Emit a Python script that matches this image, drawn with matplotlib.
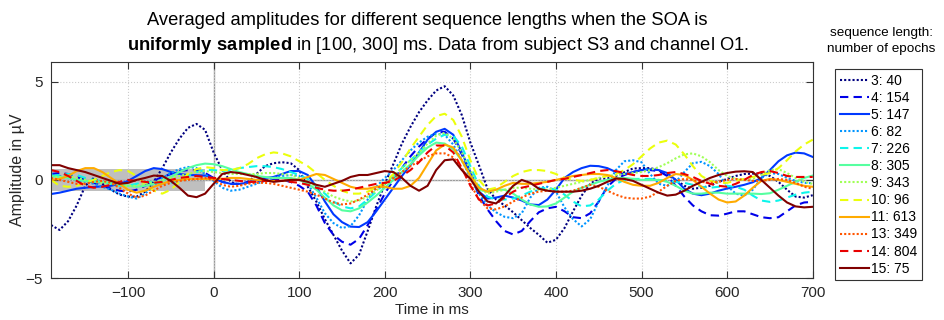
import numpy as np
import matplotlib
matplotlib.use('Agg')
import matplotlib.pyplot as plt

plt.rcParams['font.family'] = ['Liberation Sans', 'DejaVu Sans']
plt.rcParams['mathtext.fontset'] = 'custom'
plt.rcParams['mathtext.rm'] = 'Liberation Sans'
plt.rcParams['mathtext.bf'] = 'Liberation Sans:bold'

# sample times in ms (10 ms steps, -190 .. 700)
time_ms = list(range(-190, 701, 10))

seq_lengths = [3, 4, 5, 6, 7, 8, 9, 10, 11, 13, 14, 15]
n_epochs = [40, 154, 147, 82, 226, 305, 343, 96, 613, 349, 804, 75]

# averaged amplitudes (uV), one list per sequence length
amp_3 = [-2.3, -2.55, -2.1, -1.3, -0.3, 0.1, -0.2, -0.5, -0.75, -0.85,
         -0.85, -0.6, -0.1, 0.6, 1.4, 2.1, 2.65, 2.85, 2.55, 1.4,
         0.5, -0.1, -0.25, -0.15, 0.3, 0.7, 0.85, 0.9, 0.85, 0.5,
         -0.35, -1.1, -2.0, -2.8, -3.6, -4.25, -3.8, -2.6, -1.35, -0.2,
         0.8, 1.85, 2.7, 3.45, 4.05, 4.55, 4.77, 4.3, 3.3, 1.9,
         0.75, -0.45, -1.0, -1.3, -1.65, -2.05, -2.45, -2.8, -3.2, -3.05,
         -2.45, -1.6, -0.8, -0.2, 0.07, 0.07, 0.2, 0.4, 0.58, 0.6,
         0.6, 0.5, 0.25, 0.0, -0.3, -0.45, -0.4, -0.3, -0.1, 0.05,
         0.2, 0.3, 0.32, 0.32, 0.2, -0.1, -0.5, -0.85, -0.9, -0.78]
amp_4 = [0.3, 0.35, 0.3, 0.15, 0.0, -0.15, -0.3, -0.45, -0.55, -0.6,
         -0.5, -0.3, -0.05, 0.15, 0.3, 0.45, 0.5, 0.5, 0.35, 0.1,
         -0.1, -0.2, -0.2, -0.1, -0.05, -0.05, 0.0, 0.0, -0.1, -0.3,
         -0.6, -1.3, -2.2, -2.8, -3.15, -3.3, -3.0, -2.3, -1.5, -0.7,
         0.0, 0.6, 1.2, 1.7, 2.1, 2.4, 2.45, 2.1, 1.3, 0.3,
         -0.8, -1.5, -2.1, -2.6, -2.78, -2.6, -2.1, -1.65, -1.45, -1.37,
         -1.6, -1.9, -1.95, -1.7, -1.1, -0.35, 0.05, 0.25, 0.4, 0.5,
         0.5, 0.45, 0.2, -0.3, -0.85, -1.3, -1.6, -1.8, -1.82, -1.72,
         -1.6, -1.6, -1.75, -1.9, -1.95, -1.9, -1.6, -1.3, -1.15, -1.12]
amp_5 = [-0.72, -0.65, -0.55, -0.45, -0.4, -0.36, -0.33, -0.3, -0.2, -0.05,
         0.2, 0.45, 0.6, 0.55, 0.4, 0.3, 0.25, 0.24, 0.22, 0.1,
         -0.1, -0.2, -0.2, -0.15, 0.0, 0.1, 0.15, 0.3, 0.45, 0.45,
         0.25, -0.35, -1.1, -1.75, -2.15, -2.38, -2.4, -2.15, -1.6, -1.0,
         -0.4, 0.2, 0.75, 1.4, 2.05, 2.45, 2.6, 2.3, 1.4, 0.4,
         -0.6, -0.95, -0.9, -0.8, -0.9, -1.05, -1.25, -1.28, -1.0, -0.5,
         0.1, 0.4, 0.6, 0.72, 0.7, 0.6, 0.4, 0.3, 0.4, 0.5,
         0.54, 0.5, 0.35, 0.0, -0.45, -0.7, -0.78, -0.7, -0.55, -0.44,
         -0.35, -0.25, -0.12, 0.1, 0.5, 0.95, 1.25, 1.39, 1.35, 1.17]
amp_6 = [0.3, 0.2, 0.1, 0.0, -0.1, -0.2, -0.35, -0.5, -0.7, -0.85,
         -0.95, -0.7, -0.3, 0.1, 0.35, 0.55, 0.66, 0.6, 0.3, -0.05,
         -0.4, -0.55, -0.5, -0.35, -0.2, -0.05, 0.1, 0.2, 0.25, 0.2,
         -0.2, -0.9, -1.7, -2.2, -2.45, -2.35, -1.8, -1.0, -0.35, 0.1,
         0.5, 1.0, 1.5, 1.9, 2.2, 2.35, 2.3, 1.8, 1.0, 0.1,
         -0.7, -1.3, -1.65, -1.88, -1.95, -1.7, -0.9, -0.4, -0.35, -0.6,
         -1.4, -2.0, -2.37, -2.0, -1.1, -0.3, 0.5, 0.95, 1.0, 0.9,
         0.3, -0.2, -0.3, -0.1, 0.4, 0.85, 0.92, 0.7, 0.3, -0.3,
         -0.7, -0.8, -0.5, 0.1, 0.35, 0.3, 0.1, -0.05, -0.15, -0.17]
amp_7 = [0.2, 0.25, 0.3, 0.25, 0.1, 0.0, -0.1, -0.2, -0.3, -0.3,
         -0.2, -0.1, -0.1, -0.2, -0.15, 0.0, 0.2, 0.4, 0.5, 0.5,
         0.45, 0.5, 0.6, 0.65, 0.7, 0.7, 0.65, 0.55, 0.4, 0.25,
         0.05, -0.3, -0.7, -1.1, -1.35, -1.45, -1.35, -1.0, -0.6, -0.2,
         0.2, 0.6, 1.0, 1.4, 1.8, 2.1, 2.3, 2.25, 1.7, 0.7,
         -0.3, -0.85, -1.0, -1.0, -0.95, -0.8, -0.6, -0.45, -0.4, -0.5,
         -0.75, -1.1, -1.35, -1.3, -1.0, -0.55, -0.2, 0.0, 0.05, 0.05,
         0.05, 0.0, -0.05, -0.1, -0.15, -0.25, -0.35, -0.4, -0.35, -0.3,
         -0.35, -0.5, -0.8, -1.05, -1.12, -1.05, -0.9, -0.75, -0.65, -0.6]
amp_8 = [0.2, 0.15, 0.1, 0.0, -0.05, -0.1, -0.1, -0.15, -0.2, -0.3,
         -0.35, -0.3, -0.2, -0.05, 0.15, 0.4, 0.6, 0.75, 0.83, 0.8,
         0.7, 0.55, 0.4, 0.3, 0.2, 0.15, 0.1, 0.1, 0.1, 0.0,
         -0.2, -0.5, -0.9, -1.3, -1.55, -1.6, -1.45, -1.15, -0.8, -0.4,
         0.0, 0.4, 0.8, 1.25, 1.65, 1.9, 1.85, 1.55, 1.0, 0.2,
         -0.5, -0.6, -0.5, -0.5, -0.7, -1.0, -1.25, -1.37, -1.35, -1.2,
         -0.9, -0.6, -0.4, -0.25, -0.1, 0.0, 0.1, 0.1, 0.05, 0.0,
         0.0, 0.0, -0.1, -0.3, -0.55, -0.7, -0.7, -0.65, -0.65, -0.7,
         -0.7, -0.7, -0.7, -0.72, -0.68, -0.5, -0.3, -0.1, 0.1, 0.22]
amp_9 = [0.1, 0.15, 0.2, 0.1, 0.0, -0.1, -0.15, -0.2, -0.25, -0.3,
         -0.3, -0.2, -0.1, 0.0, 0.1, 0.2, 0.3, 0.4, 0.45, 0.4,
         0.35, 0.3, 0.3, 0.3, 0.3, 0.35, 0.35, 0.3, 0.25, 0.1,
         -0.1, -0.35, -0.6, -0.85, -1.0, -1.1, -1.05, -0.85, -0.55, -0.2,
         0.2, 0.6, 1.0, 1.4, 1.85, 2.25, 2.4, 2.1, 1.4, 0.5,
         -0.4, -0.7, -0.6, -0.5, -0.4, -0.4, -0.45, -0.5, -0.5, -0.4,
         -0.3, -0.2, -0.1, 0.0, 0.1, 0.2, 0.25, 0.3, 0.35, 0.4,
         0.5, 0.65, 0.85, 1.1, 1.3, 1.35, 1.2, 0.9, 0.5, 0.2,
         0.05, 0.0, 0.05, 0.25, 0.5, 0.55, 0.35, 0.1, -0.1, -0.2]
amp_10 = [0.0, -0.3, -0.35, -0.3, -0.15, 0.0, 0.2, 0.4, 0.5, 0.45,
          0.2, -0.2, -0.55, -0.7, -0.5, -0.1, 0.3, 0.55, 0.65, 0.6,
          0.5, 0.5, 0.6, 0.8, 1.1, 1.3, 1.4, 1.35, 1.2, 0.95,
          0.7, 0.35, 0.0, -0.3, -0.55, -0.7, -0.7, -0.6, -0.4, -0.15,
          0.3, 0.9, 1.6, 2.2, 2.8, 3.25, 3.37, 3.05, 2.2, 1.0,
          0.0, -0.5, -0.4, -0.1, 0.2, 0.4, 0.5, 0.5, 0.45, 0.3,
          0.1, 0.0, -0.05, 0.0, 0.1, 0.2, 0.3, 0.5, 0.8, 1.2,
          1.6, 1.9, 2.0, 1.8, 1.3, 0.7, 0.2, -0.05, -0.15, -0.15,
          -0.05, 0.05, 0.15, 0.25, 0.35, 0.6, 1.0, 1.45, 1.8, 2.05]
amp_11 = [0.0, 0.05, 0.2, 0.45, 0.6, 0.6, 0.4, 0.1, -0.2, -0.5,
          -0.65, -0.55, -0.35, -0.2, -0.05, 0.0, 0.05, 0.05, 0.05, 0.05,
          0.05, 0.1, 0.1, 0.05, 0.0, -0.05, -0.05, -0.05, 0.0, 0.0,
          0.15, 0.3, 0.25, 0.05, -0.15, -0.35, -0.45, -0.45, -0.35, -0.35,
          -0.45, -0.45, -0.3, 0.1, 0.8, 1.5, 1.8, 1.65, 1.0, 0.2,
          -0.4, -0.6, -0.5, -0.3, -0.15, -0.2, -0.2, -0.15, -0.1, 0.0,
          0.1, 0.2, 0.25, 0.3, 0.3, 0.25, 0.1, -0.1, -0.25, -0.3,
          -0.3, -0.15, 0.1, 0.3, 0.25, 0.0, -0.35, -0.7, -1.0, -1.15,
          -1.1, -0.8, -0.4, -0.05, 0.05, 0.0, -0.1, -0.2, -0.3, -0.35]
amp_13 = [0.1, 0.0, -0.1, -0.2, -0.2, -0.1, -0.05, -0.15, -0.4, -0.7,
          -0.9, -0.8, -0.55, -0.3, -0.15, -0.05, 0.0, 0.05, 0.1, 0.0,
          -0.25, -0.35, -0.3, -0.2, -0.15, -0.15, -0.2, -0.3, -0.4, -0.5,
          -0.6, -0.75, -0.95, -1.15, -1.25, -1.2, -1.0, -0.75, -0.45, -0.2,
          0.1, 0.4, 0.7, 0.95, 1.2, 1.35, 1.35, 1.15, 0.6, -0.2,
          -1.0, -1.45, -1.5, -1.35, -1.1, -0.9, -0.7, -0.6, -0.55, -0.6,
          -0.6, -0.55, -0.4, -0.25, -0.35, -0.55, -0.75, -0.9, -0.95, -0.95,
          -0.85, -0.6, -0.3, -0.05, 0.05, 0.0, -0.1, -0.15, -0.1, 0.0,
          0.05, 0.0, -0.05, -0.05, 0.0, 0.05, 0.0, -0.15, -0.35, -0.45]
amp_14 = [0.5, 0.4, 0.2, -0.05, -0.3, -0.4, -0.35, -0.25, -0.1, 0.0,
          -0.05, -0.1, -0.15, -0.1, 0.0, 0.1, 0.15, 0.2, 0.15, 0.1,
          0.05, 0.0, -0.05, -0.1, -0.1, -0.05, -0.05, -0.05, -0.1, -0.15,
          -0.25, -0.4, -0.5, -0.55, -0.55, -0.5, -0.4, -0.3, -0.2, -0.15,
          -0.05, 0.2, 0.5, 0.9, 1.4, 1.75, 1.75, 1.4, 0.6, -0.3,
          -1.0, -1.3, -1.2, -0.9, -0.6, -0.4, -0.3, -0.2, -0.1, 0.0,
          0.05, 0.15, 0.25, 0.35, 0.45, 0.5, 0.45, 0.35, 0.25, 0.2,
          0.2, 0.25, 0.35, 0.4, 0.3, 0.15, -0.05, -0.2, -0.3, -0.35,
          -0.2, 0.0, 0.25, 0.4, 0.45, 0.35, 0.2, 0.15, 0.15, 0.15]
amp_15 = [0.75, 0.75, 0.6, 0.5, 0.4, 0.25, 0.1, -0.05, -0.2, -0.15,
          0.0, 0.1, 0.22, 0.2, -0.05, -0.4, -0.8, -0.88, -0.7, -0.2,
          0.3, 0.4, 0.35, 0.25, 0.15, 0.0, -0.1, -0.05, 0.0, 0.0,
          -0.1, -0.25, -0.35, -0.2, -0.05, 0.15, 0.25, 0.25, 0.35, 0.45,
          0.4, 0.1, -0.3, -0.55, -0.3, 0.5, 1.0, 1.05, 0.5, 0.05,
          -0.6, -1.1, -1.2, -0.8, -0.3, 0.0, -0.15, -0.45, -0.55, -0.6,
          -0.6, -0.6, -0.55, -0.45, -0.3, -0.1, 0.07, 0.05, -0.05, -0.25,
          -0.45, -0.65, -0.8, -0.75, -0.55, -0.3, -0.1, 0.1, 0.25, 0.35,
          0.42, 0.44, 0.4, 0.0, -0.4, -0.8, -1.15, -1.35, -1.4, -1.37]

amps = [amp_3, amp_4, amp_5, amp_6, amp_7, amp_8, amp_9, amp_10,
        amp_11, amp_13, amp_14, amp_15]

# baseline window shown as grey band
baseline_window = [-190, -10]
baseline_band = 0.55

colors = plt.cm.jet(np.linspace(0, 1, len(seq_lengths)))
styles = [(0, (1, 1)), (0, (4, 2.5)), '-']
txt_col = (0.15, 0.15, 0.15)

fig = plt.figure(figsize=(9.45, 3.2), dpi=100)
ax = fig.add_axes([0.054, 0.131, 0.806, 0.675])

ax.fill_between(baseline_window, -baseline_band, baseline_band,
                color=(0.75, 0.75, 0.75), linewidth=0, zorder=1)
ax.axhline(0, color=(0.6, 0.6, 0.6), linewidth=1, zorder=1.5)
ax.axvline(0, color=(0.6, 0.6, 0.6), linewidth=1, zorder=1.5)

for i in range(len(seq_lengths)):
    ax.plot(time_ms, amps[i], color=colors[i], linestyle=styles[i % 3],
            linewidth=1.5, label='%d: %d' % (seq_lengths[i], n_epochs[i]), zorder=2)

ax.set_xlim(-190, 700)
ax.set_ylim(-5, 6)
ax.set_xticks(range(-100, 701, 100))
ax.set_yticks([-5, 0, 5])
ax.grid(True, linestyle=':', color=(0.8, 0.8, 0.8), linewidth=0.8)
ax.tick_params(direction='in', top=True, right=True, labelsize=11, length=5, pad=6,
               color=(0.2, 0.2, 0.2), labelcolor=txt_col)
for sp in ax.spines.values():
    sp.set_color((0.2, 0.2, 0.2))
ax.set_xlabel('Time in ms', fontsize=11, color=txt_col, labelpad=2)
ax.set_ylabel('Amplitude in \u00b5V', fontsize=11.5, color=txt_col, labelpad=0)

fig.text(0.452, 0.937, 'Averaged amplitudes for different sequence lengths when the SOA is',
         ha='center', va='center', fontsize=13.2)
fig.text(0.463, 0.859, r'$\mathbf{uniformly\ sampled}$ in [100, 300] ms. Data from subject S3 and channel O1.',
         ha='center', va='center', fontsize=13.2)

fig.text(0.933, 0.872, 'sequence length:\nnumber of epochs', ha='center', va='center',
         fontsize=9.7, linespacing=1.35)

leg = fig.legend(loc='upper left', bbox_to_anchor=(0.884, 0.784), fontsize=10,
                 handlelength=2.1, handletextpad=0.1, labelspacing=0.22,
                 borderpad=0.35, fancybox=False, framealpha=1, borderaxespad=0)
leg.get_frame().set_edgecolor((0.2, 0.2, 0.2))
leg.get_frame().set_linewidth(0.8)

plt.savefig('out.png', dpi=100)
